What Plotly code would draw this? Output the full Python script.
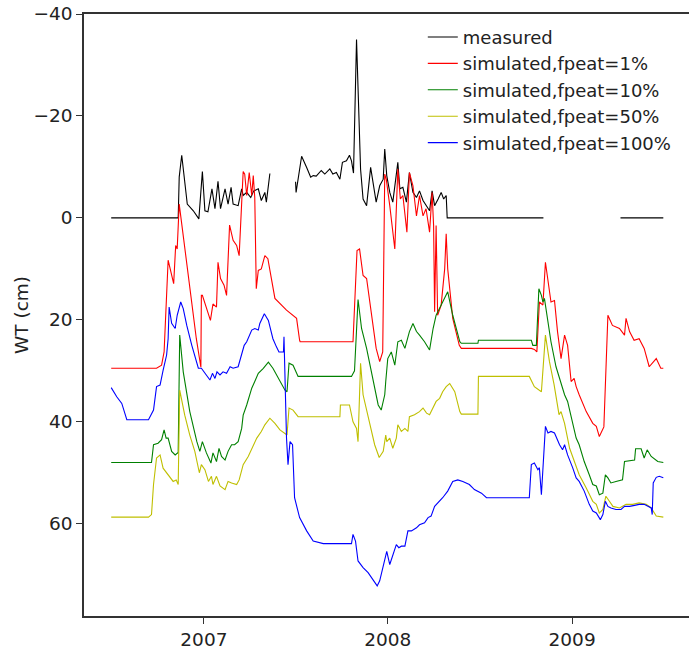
import pandas as pd
import plotly.graph_objects as go

START = "2006-07-01"

# measured water table (days since START, cm); None marks a gap
meas_day = [0, 133, 135, 140, 151, 163, 174, 181, 186, 192,
            200, 206, 212, 217, 226, 232, 238, 242, 252, 259,
            262, 269, 277, 283, 292, 298, 305, 308, 315, 340,
            366, 367, 378, 384, 388, 396, 401, 407, 417, 424,
            434, 440, 447, 454, 459, 467, 473, 477, 481, 487,
            491, 495, 500, 507, 515, 520, 526, 533, 540, 543,
            547, 553, 559, 569, 573, 579, 586, 592, 599, 606,
            612, 619, 626, 632, 637, 642, 649, 655, 660, 665,
            667, 858, 930, 1011, 1096]
meas_val = [0, 0, -8.0, -12.3, -2.7, -1.4, 0.2, -9.1, -1.4, -1.2,
            -5.7, -1.8, -7.2, -1.8, -5.7, -2.7, -6.0, -2.7, -2.4, -5.7,
            -4.4, -5.0, -4.0, -5.3, -5.7, -3.4, -5.0, -3.1, -8.7, None,
            -7.1, -5.0, -12.1, -10.9, -9.9, -8.0, -8.3, -8.2, -9.3, -8.6,
            -9.6, -8.6, -8.9, -7.6, -10.9, -11.2, -12.3, -11.2, -8.8, -35.0,
            -20.7, -9.6, -3.7, -2.4, -9.9, -7.0, -3.1, -6.3, -7.6, -13.5,
            -8.3, -5.0, -3.1, -10.9, -5.7, -6.0, -3.1, -8.9, -5.0, -4.0,
            -5.3, -3.4, -2.4, -1.4, -5.3, -2.4, -3.7, -5.0, -3.7, -4.4,
            0, 0, None, 0, 0]

# simulated, fpeat = 1%
f1_day = [0, 90, 100, 105, 113, 124, 128, 131, 135, 143,
          153, 169, 178, 179, 181, 189, 197, 202, 209, 212,
          217, 224, 229, 235, 242, 249, 254, 262, 265, 269,
          274, 279, 282, 285, 288, 292, 298, 305, 311, 318,
          325, 348, 368, 374, 375, 480, 488, 493, 500, 507,
          526, 533, 539, 543, 546, 553, 563, 569, 574, 579,
          587, 592, 599, 606, 612, 619, 625, 632, 637, 640,
          642, 645, 648, 655, 662, 665, 668, 678, 691, 695,
          834, 840, 845, 850, 857, 862, 867, 873, 880, 886,
          893, 900, 906, 913, 919, 923, 929, 943, 956, 963,
          969, 976, 978, 986, 995, 1009, 1019, 1022, 1029, 1038,
          1048, 1058, 1068, 1082, 1091, 1096]
f1_val = [29.5, 29.5, 28.9, 26.3, 8.3, 12.9, 5.4, 6.1, -2.7, 3.5,
          11.9, 23.7, 29.3, 15.2, 15.2, 17.5, 20.1, 16.9, 17.5, 8.7,
          11.9, 13.2, 15.2, 1.4, 4.4, 5.4, 7.4, -9.1, -8.6, -4.4,
          -8.9, -4.4, -8.3, -4.0, 13.9, 10.3, 10.0, 7.4, 8.0, 11.9,
          15.8, 18.1, 19.7, 24.0, 24.3, 24.3, 6.4, 6.1, 11.3, 11.9,
          25.6, 28.2, 26.3, -8.6, -7.6, -2.4, 6.1, -9.6, -3.7, -4.4,
          2.8, -8.9, -6.3, -0.4, -4.4, -0.4, -1.8, 2.8, -5.0, 1.5,
          18.4, 1.5, 19.1, 17.1, 10.0, 3.1, 10.0, 19.7, 25.0, 25.6,
          25.6, 25.8, 26.3, 16.5, 17.1, 8.7, 12.6, 16.5, 16.2, 22.3,
          27.6, 23.0, 25.0, 32.1, 31.5, 33.1, 34.7, 38.0, 40.3, 40.9,
          42.9, 41.6, 41.0, 19.1, 21.1, 21.7, 23.0, 19.7, 22.3, 24.0,
          23.7, 25.6, 29.2, 27.6, 29.5, 29.5]

# simulated, fpeat = 10%
f10_day = [0, 80, 84, 93, 100, 105, 109, 113, 120, 127,
           133, 136, 143, 156, 170, 176, 181, 189, 198, 202,
           209, 214, 219, 226, 232, 239, 245, 252, 259, 262,
           269, 279, 285, 292, 302, 312, 321, 335, 345, 349,
           353, 361, 371, 477, 483, 490, 497, 507, 520, 530,
           536, 543, 545, 549, 556, 563, 569, 576, 583, 589,
           592, 599, 606, 612, 622, 632, 639, 645, 652, 658,
           668, 678, 692, 695, 728, 729, 834, 837, 844, 849,
           854, 857, 860, 867, 873, 883, 896, 900, 906, 916,
           923, 929, 939, 949, 956, 963, 969, 976, 981, 986,
           992, 1002, 1015, 1019, 1039, 1041, 1052, 1058, 1064, 1072,
           1085, 1096]
f10_val = [48.0, 48.0, 44.5, 44.2, 43.5, 41.6, 43.2, 43.2, 45.8, 46.5,
           46.0, 23.0, 30.2, 38.0, 43.9, 45.8, 43.9, 46.1, 48.1, 46.1,
           47.8, 45.2, 46.8, 47.5, 45.8, 44.5, 44.5, 43.9, 41.3, 38.7,
           36.7, 33.4, 32.1, 30.5, 29.5, 28.3, 29.5, 32.1, 33.8, 34.1,
           28.5, 28.9, 31.1, 31.1, 30.0, 16.0, 21.7, 25.6, 31.5, 36.7,
           37.7, 34.7, 32.1, 27.6, 26.3, 28.9, 24.3, 24.0, 25.6, 23.0,
           22.3, 20.7, 22.3, 23.0, 24.3, 25.9, 21.7, 19.1, 17.8, 16.5,
           14.5, 19.1, 24.3, 24.6, 24.6, 24.0, 24.0, 25.0, 25.0, 13.9,
           15.2, 16.5, 15.8, 20.4, 24.3, 29.2, 33.1, 34.7, 36.0, 40.6,
           43.2, 44.5, 47.8, 50.4, 52.3, 52.6, 54.3, 54.0, 50.4, 51.0,
           52.0, 51.7, 51.4, 47.8, 47.5, 45.3, 45.3, 47.1, 45.5, 46.8,
           47.8, 48.0]

# simulated, fpeat = 50%
f50_day = [0, 74, 80, 84, 90, 97, 103, 110, 117, 123,
           129, 133, 136, 146, 156, 166, 175, 179, 186, 193,
           199, 202, 209, 216, 226, 232, 239, 249, 254, 262,
           272, 282, 289, 298, 305, 315, 325, 335, 345, 349,
           353, 361, 371, 454, 455, 473, 480, 487, 490, 495,
           500, 513, 523, 532, 540, 545, 547, 553, 559, 566,
           569, 576, 583, 589, 592, 602, 612, 619, 626, 632,
           639, 645, 652, 658, 665, 672, 682, 692, 695, 728,
           729, 830, 840, 854, 862, 870, 879, 889, 893, 900,
           910, 920, 929, 943, 956, 963, 969, 976, 982, 989,
           996, 1009, 1022, 1035, 1048, 1062, 1072, 1082, 1096]
f50_val = [58.7, 58.7, 58.2, 52.3, 47.1, 46.5, 49.1, 50.0, 51.0, 51.7,
           51.4, 52.3, 33.8, 38.7, 42.6, 45.8, 50.0, 48.4, 49.4, 51.7,
           50.7, 52.3, 50.7, 52.6, 53.3, 51.7, 52.0, 52.3, 51.4, 48.4,
           46.8, 44.5, 43.2, 41.9, 40.6, 39.3, 40.3, 41.6, 42.2, 42.6,
           37.3, 37.7, 39.0, 39.0, 36.7, 36.7, 40.0, 41.3, 43.9, 28.5,
           34.7, 40.6, 44.5, 47.0, 45.8, 42.6, 43.9, 43.2, 45.2, 43.2,
           40.6, 41.9, 41.3, 41.9, 39.0, 38.6, 38.0, 37.3, 38.3, 38.6,
           37.3, 36.0, 35.4, 34.1, 33.1, 32.5, 34.1, 38.0, 38.5, 38.5,
           31.1, 31.1, 33.1, 34.1, 23.0, 28.2, 32.6, 38.6, 38.0, 40.3,
           45.2, 47.8, 50.4, 53.0, 55.6, 56.2, 57.9, 57.2, 54.6, 55.6,
           56.6, 56.9, 56.2, 56.2, 55.9, 56.2, 56.9, 58.5, 58.7]

# simulated, fpeat = 100%
f100_day = [0, 11, 21, 31, 74, 84, 90, 97, 103, 110,
            113, 115, 120, 127, 131, 138, 143, 150, 160, 166,
            173, 179, 186, 196, 201, 206, 210, 216, 222, 229,
            236, 242, 252, 259, 264, 269, 279, 285, 292, 295,
            304, 312, 321, 328, 333, 342, 343, 348, 351, 355,
            360, 364, 374, 388, 401, 421, 477, 480, 485, 490,
            500, 510, 520, 528, 533, 543, 547, 553, 566, 571,
            576, 583, 589, 596, 606, 612, 622, 629, 635, 642,
            652, 658, 668, 678, 688, 698, 711, 721, 735, 745,
            830, 834, 840, 847, 850, 854, 862, 867, 873, 880,
            890, 896, 900, 906, 916, 923, 929, 939, 949, 956,
            963, 971, 976, 981, 986, 992, 1002, 1012, 1019, 1029,
            1039, 1048, 1058, 1065, 1072, 1074, 1076, 1082, 1088, 1096]
f100_val = [33.3, 35.1, 36.4, 39.6, 39.6, 37.7, 33.1, 32.8, 29.9, 26.9,
            23.7, 17.5, 20.7, 21.7, 19.1, 16.5, 17.8, 21.1, 25.0, 26.9,
            29.5, 29.5, 30.5, 31.8, 30.5, 31.5, 30.2, 30.8, 30.2, 30.5,
            29.2, 29.5, 29.2, 26.9, 25.0, 24.3, 22.0, 21.7, 22.0, 20.7,
            18.8, 20.1, 23.7, 25.3, 26.3, 26.3, 23.3, 43.2, 48.4, 43.9,
            44.5, 54.9, 58.8, 61.4, 63.4, 63.9, 63.9, 62.1, 63.4, 67.3,
            68.6, 69.6, 71.2, 72.2, 71.2, 66.7, 65.4, 68.0, 64.1, 64.7,
            64.4, 64.4, 61.4, 61.4, 60.8, 60.2, 59.8, 58.8, 58.5, 56.6,
            55.6, 54.9, 53.6, 51.7, 51.4, 51.7, 52.3, 53.3, 54.0, 54.9,
            54.9, 48.4, 48.1, 49.4, 49.0, 54.3, 40.9, 42.2, 41.9, 42.2,
            44.5, 45.5, 44.5, 46.5, 49.0, 51.0, 51.7, 53.6, 56.2, 57.5,
            57.9, 59.2, 58.2, 55.6, 56.6, 56.9, 57.2, 57.2, 56.6, 56.6,
            56.4, 56.2, 56.2, 56.6, 56.9, 58.2, 52.0, 50.9, 50.7, 51.0]

series_names = ["measured", "simulated,fpeat=1%", "simulated,fpeat=10%",
                "simulated,fpeat=50%", "simulated,fpeat=100%"]
series_colors = ["#000000", "#ff0000", "#008000", "#bfbf00", "#0000ff"]

y_ticks = [-40, -20, 0, 20, 40, 60]
y_ticktext = ["\u221240", "\u221220", "0", "20", "40", "60"]
x_ticks = ["2007-01-01", "2008-01-01", "2009-01-01"]
x_ticktext = ["2007", "2008", "2009"]

start = pd.Timestamp(START)


def to_dates(days):
    return [start + pd.Timedelta(days=d) for d in days]


data = [(meas_day, meas_val), (f1_day, f1_val), (f10_day, f10_val),
        (f50_day, f50_val), (f100_day, f100_val)]

fig = go.Figure()
for (d, v), name, col in zip(data, series_names, series_colors):
    assert len(d) == len(v), (name, len(d), len(v))
    fig.add_trace(go.Scatter(x=to_dates(d), y=v, mode="lines", name=name,
                             line=dict(color=col, width=1.1),
                             connectgaps=False))

FONT = "DejaVu Sans"
fig.update_layout(
    width=689, height=650,
    margin=dict(l=84, r=0, t=14, b=32),
    paper_bgcolor="white", plot_bgcolor="white",
    font=dict(family=FONT, size=18, color="#222"),
    showlegend=True,
    legend=dict(x=0.56, y=0.992, xanchor="left", yanchor="top",
                bgcolor="rgba(0,0,0,0)", font=dict(family=FONT, size=18, color="#222"),
                tracegroupgap=0),
    xaxis=dict(range=["2006-05-08", "2009-08-21"], type="date",
               tickvals=x_ticks, ticktext=x_ticktext,
               showline=True, linecolor="#333", linewidth=1.5, mirror=True,
               ticks="outside", ticklen=6, tickwidth=1.3, tickcolor="#333",
               showgrid=False, zeroline=False,
               tickfont=dict(family=FONT, size=18.5, color="#222")),
    yaxis=dict(range=[78.1, -40], tickvals=y_ticks, ticktext=y_ticktext,
               showline=True, linecolor="#333", linewidth=1.5, mirror=False,
               ticks="outside", ticklen=6, tickwidth=1.3, tickcolor="#333",
               showgrid=False, zeroline=False,
               title=dict(text="WT (cm)", font=dict(family=FONT, size=18.5, color="#222"),
                          standoff=0),
               tickfont=dict(family=FONT, size=18.5, color="#222")),
)

fig.write_html("out.html")
